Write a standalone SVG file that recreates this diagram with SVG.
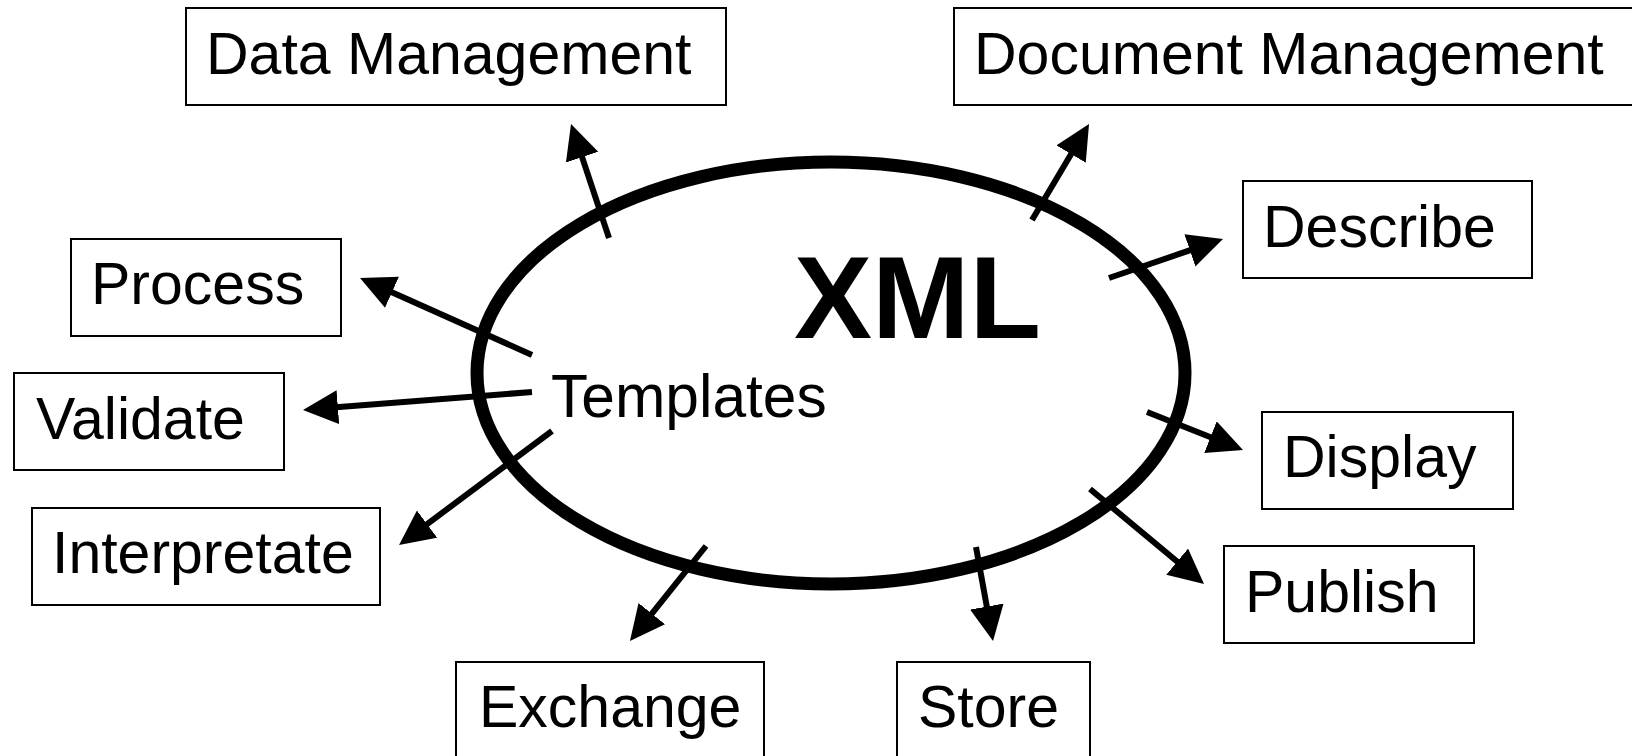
<svg xmlns="http://www.w3.org/2000/svg" width="1632" height="756" viewBox="0 0 1632 756">
<style>
.box{fill:#fff;stroke:#000;stroke-width:2}
.lbl{font-family:"Liberation Sans",Arial,sans-serif;font-size:59px;fill:#000}
.conn{stroke:#000;stroke-width:6;fill:none;marker-end:url(#ah)}
</style>
<defs>
<marker id="ah" markerUnits="userSpaceOnUse" markerWidth="36" markerHeight="36" refX="5" refY="17" orient="auto" viewBox="0 0 36 36">
<path d="M0,0 L35,17 L0,34 Z" fill="#000"/>
</marker>
</defs>
<rect width="1632" height="756" fill="#fff"/>
<g id="xml">
<ellipse cx="831" cy="373" rx="354" ry="211" fill="none" stroke="#000" stroke-width="13"/>
<text x="794" y="338" style="font-family:'Liberation Sans',Arial,sans-serif;font-size:117px;font-weight:bold;fill:#000">XML</text>
<text class="lbl" x="551" y="417" style="font-size:60.5px">Templates</text>
</g>
<g id="connectors">
<line class="conn" x1="609" y1="238" x2="580.5" y2="152.4"/>
<line class="conn" x1="1032" y1="220" x2="1073.7" y2="149.8"/>
<line class="conn" x1="1109" y1="278" x2="1194.6" y2="248.7"/>
<line class="conn" x1="1147" y1="412" x2="1215.1" y2="439"/>
<line class="conn" x1="1090" y1="489" x2="1181" y2="564.8"/>
<line class="conn" x1="976" y1="547" x2="987.7" y2="611.5"/>
<line class="conn" x1="706" y1="546" x2="648.7" y2="617.6"/>
<line class="conn" x1="552" y1="431" x2="423.1" y2="527.1"/>
<line class="conn" x1="532" y1="392" x2="332.9" y2="407.6"/>
<line class="conn" x1="532" y1="355" x2="387.4" y2="290.3"/>
</g>
<g id="data-management">
<rect class="box" x="186" y="8" width="540" height="97"/>
<text class="lbl" x="206" y="74">Data Management</text>
</g>
<g id="document-management">
<rect class="box" x="954" y="8" width="700" height="97"/>
<text class="lbl" x="974" y="74">Document Management</text>
</g>
<g id="describe">
<rect class="box" x="1243" y="181" width="289" height="97"/>
<text class="lbl" x="1263" y="247">Describe</text>
</g>
<g id="process">
<rect class="box" x="71" y="239" width="270" height="97"/>
<text class="lbl" x="91" y="304">Process</text>
</g>
<g id="validate">
<rect class="box" x="14" y="373" width="270" height="97"/>
<text class="lbl" x="36" y="439">Validate</text>
</g>
<g id="interpretate">
<rect class="box" x="32" y="508" width="348" height="97"/>
<text class="lbl" x="52" y="573">Interpretate</text>
</g>
<g id="display">
<rect class="box" x="1262" y="412" width="251" height="97"/>
<text class="lbl" x="1283" y="477">Display</text>
</g>
<g id="publish">
<rect class="box" x="1224" y="546" width="250" height="97"/>
<text class="lbl" x="1245" y="612">Publish</text>
</g>
<g id="exchange">
<rect class="box" x="456" y="662" width="308" height="120"/>
<text class="lbl" x="479" y="727">Exchange</text>
</g>
<g id="store">
<rect class="box" x="897" y="662" width="193" height="120"/>
<text class="lbl" x="918" y="727">Store</text>
</g>
</svg>
